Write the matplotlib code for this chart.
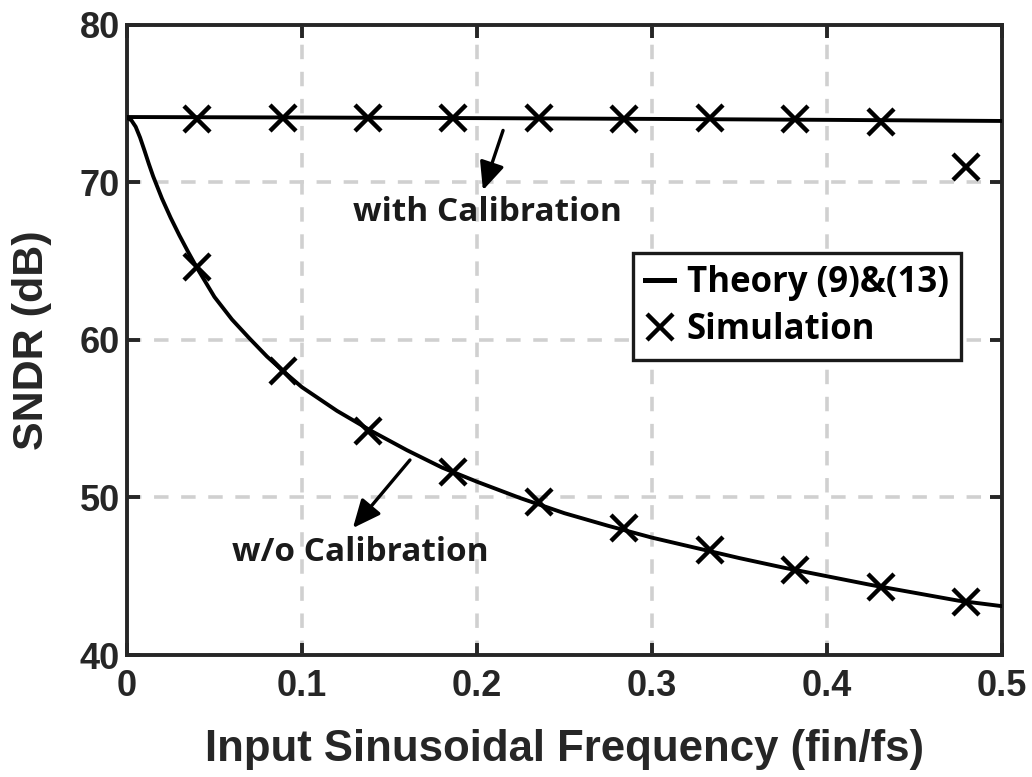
import matplotlib
matplotlib.use('Agg')
from matplotlib import pyplot as plt

# theory curves (SNDR in dB vs fin/fs)
f_theory = [0, 0.0025, 0.005, 0.0075, 0.01, 0.0125, 0.015, 0.02, 0.025, 0.03, 0.035, 0.04,
            0.05, 0.06, 0.07, 0.08, 0.09, 0.1, 0.12, 0.14, 0.16, 0.18, 0.2, 0.225, 0.25,
            0.275, 0.3, 0.325, 0.35, 0.375, 0.4, 0.425, 0.45, 0.475, 0.5]
sndr_wo_theory = [74.1, 73.95, 73.53, 72.85, 72.03, 71.18, 70.38, 68.98, 67.75, 66.63, 65.58, 64.58,
                  62.73, 61.3, 60.1, 58.95, 57.95, 57.0, 55.5, 54.2, 53.0, 51.9, 51.0, 49.95, 49.0,
                  48.2, 47.45, 46.8, 46.15, 45.55, 45.0, 44.45, 43.95, 43.45, 43.1]
f_cal_theory = [0, 0.1, 0.2, 0.3, 0.4, 0.5]
sndr_cal_theory = [74.15, 74.12, 74.08, 74.03, 73.97, 73.9]

# simulated points
f_sim = [0.040, 0.0889, 0.1377, 0.1865, 0.2354, 0.2842, 0.3330, 0.3818, 0.4307, 0.4795]
sndr_cal_sim = [74.0, 74.1, 74.1, 74.1, 74.1, 74.0, 74.1, 74.0, 73.85, 71.0]
sndr_wo_sim = [64.6, 58.0, 54.2, 51.6, 49.7, 48.05, 46.65, 45.4, 44.3, 43.35]

xticks = [0, 0.1, 0.2, 0.3, 0.4, 0.5]
yticks = [40, 50, 60, 70, 80]

dark = '#262626'
axis_font = ['Liberation Sans', 'DejaVu Sans']
note_font = ['Open Sans', 'DejaVu Sans']

fig = plt.figure(figsize=(10.32, 7.77), dpi=100)
ax = fig.add_axes([0.123, 0.157, 0.848, 0.811])

ax.plot(f_theory, sndr_wo_theory, color='black', lw=2.8, label='Theory (9)&(13)', zorder=3)
ax.plot(f_cal_theory, sndr_cal_theory, color='black', lw=2.8, zorder=3)
ax.plot(f_sim, sndr_wo_sim, 'x', color='black', ms=19, mew=3.2, label='Simulation', zorder=4)
ax.plot(f_sim, sndr_cal_sim, 'x', color='black', ms=19, mew=3.2, zorder=4)

ax.set_xlim(0, 0.5)
ax.set_ylim(40, 80)
ax.set_xticks(xticks)
ax.set_yticks(yticks)
ax.set_xticklabels(['0', '0.1', '0.2', '0.3', '0.4', '0.5'])
ax.grid(True, color='#d0d0d0', lw=2.6, linestyle=(0, (4, 3.5)))
ax.set_axisbelow(True)

for s in ax.spines.values():
    s.set_linewidth(2.8)
    s.set_color(dark)
ax.tick_params(direction='in', length=9, width=2.8, color=dark, top=True, right=True,
               labelsize=26, labelcolor=dark)
ax.tick_params(axis='x', pad=10)
ax.tick_params(axis='y', pad=5)
for lab in ax.get_xticklabels() + ax.get_yticklabels():
    lab.set_fontweight('bold')
    lab.set_family(axis_font)

ax.set_xlabel('Input Sinusoidal Frequency (fin/fs)', fontsize=31.5, fontweight='bold',
              color=dark, family=axis_font)
ax.set_ylabel('SNDR (dB)', fontsize=31, fontweight='bold', color=dark, family=axis_font)
ax.xaxis.set_label_coords(0.5, -0.118)
ax.yaxis.set_label_coords(-0.086, 0.5)

# curve annotations
arrow = dict(arrowstyle='-|>,head_length=0.85,head_width=0.38', color='black', lw=2.4,
             mutation_scale=20, shrinkA=0, shrinkB=0)
ax.annotate('', xy=(0.2034, 69.5), xytext=(0.2149, 73.3), arrowprops=arrow)
ax.text(0.2057, 68.1, 'with Calibration', ha='center', va='center', fontsize=24,
        fontweight='bold', color='#1a1a1a', family=note_font)
ax.annotate('', xy=(0.1291, 48.06), xytext=(0.1617, 52.38), arrowprops=arrow)
ax.text(0.1331, 46.5, 'w/o Calibration', ha='center', va='center', fontsize=24,
        fontweight='bold', color='#1a1a1a', family=note_font)

leg = ax.legend(loc='upper left', bbox_to_anchor=(0.578, 0.638),
                prop={'family': note_font, 'weight': 'bold', 'size': 25},
                handlelength=0.85, handletextpad=0.35, borderpad=0.35, labelspacing=0.32,
                borderaxespad=0, fancybox=False, framealpha=1, edgecolor='#1a1a1a')
leg.get_frame().set_linewidth(2.4)
for h in leg.legend_handles:
    h.set_linewidth(3.6)

fig.savefig('out.png', dpi=100)
